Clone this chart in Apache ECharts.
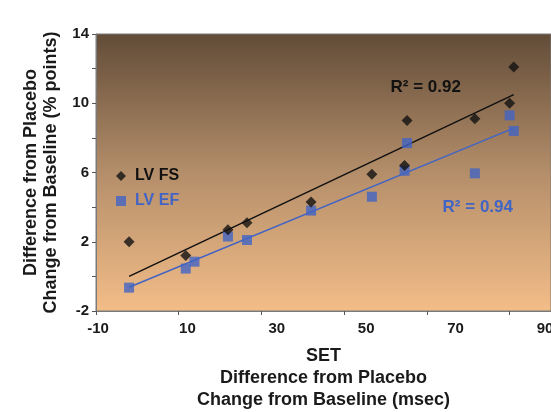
<!DOCTYPE html>
<html>
<head>
<meta charset="utf-8">
<script src="https://cdn.jsdelivr.net/npm/echarts@6/dist/echarts.min.js"></script>
<style>
  html, body { margin: 0; padding: 0; background: #fff; }
  #chart { width: 551px; height: 412px; }
</style>
</head>
<body>
<div id="chart"></div>
<script>
// LV FS (diamonds) and LV EF (squares), SET msec vs % points
var fsX = [-2, 11.7, 21.9, 26.5, 42.0, 56.7, 64.6, 65.2, 81.6, 90.0, 91.0];
var fsY = [2.0, 1.2, 2.7, 3.1, 4.3, 5.9, 6.4, 9.0, 9.1, 10.0, 12.1];
var efX = [-2, 11.7, 13.8, 21.9, 26.5, 42.0, 56.7, 64.6, 65.2, 81.6, 90.0, 91.0];
var efY = [-0.65, 0.45, 0.85, 2.3, 2.1, 3.8, 4.6, 6.1, 7.7, 5.95, 9.3, 8.4];

// trend line ends
var fsTrendX = [-2, 91];
var fsTrendY = [0.0, 10.5];
var efTrendX = [-2, 91];
var efTrendY = [-0.63, 8.56];

var xTickLabels = [-10, 10, 30, 50, 70, 90];
var yTickLabels = [-2, 2, 6, 10, 14];

function pairs(xs, ys) {
  return xs.map(function (x, i) { return [x, ys[i]]; });
}

var blue = '#4264c4';
var font = '"Liberation Sans", Arial, sans-serif';

var chart = echarts.init(document.getElementById('chart'));

chart.setOption({
  backgroundColor: '#fff',
  animation: false,
  textStyle: { fontFamily: font },
  grid: {
    left: 96,
    right: 0,
    top: 34,
    bottom: 101,
    outerBoundsMode: 'none',
    containLabel: false,
    show: true,
    borderColor: '#7a7a7a',
    borderWidth: 1,
    backgroundColor: {
      type: 'linear', x: 0, y: 0, x2: 0, y2: 1,
      colorStops: [
        { offset: 0, color: '#624c38' },
        { offset: 0.5, color: '#b48e6a' },
        { offset: 1, color: '#f3bd88' }
      ]
    }
  },
  legend: {
    orient: 'vertical',
    left: 111,
    top: 163,
    itemWidth: 10,
    itemHeight: 10,
    itemGap: 9,
    textStyle: { fontSize: 16, fontWeight: 'bold', fontFamily: font, padding: [0, 0, 0, 4] },
    data: [
      { name: 'LV FS', textStyle: { color: '#111' } },
      { name: 'LV EF', textStyle: { color: blue } }
    ]
  },
  xAxis: [
    {
      type: 'value',
      min: -10,
      max: 100,
      interval: 20,
      position: 'bottom',
      axisLine: { onZero: false, lineStyle: { color: '#7a7a7a', width: 1 } },
      axisTick: { length: 4, lineStyle: { color: '#555' } },
      axisLabel: { show: false },
      splitLine: { show: false },
      name: 'SET\nDifference from Placebo\nChange from Baseline (msec)',
      nameLocation: 'middle',
      nameGap: 34,
      nameTextStyle: {
        fontSize: 18, fontWeight: 'bold', color: '#1a1a1a',
        lineHeight: 22, fontFamily: font
      }
    },
    {
      // labels only (they drift a bit from the ticks in the source)
      type: 'value',
      min: -10.45,
      max: 91.34,
      position: 'bottom',
      axisLine: { show: false, onZero: false },
      axisTick: { show: false },
      splitLine: { show: false },
      axisLabel: {
        customValues: xTickLabels,
        fontSize: 15,
        fontWeight: 'bold',
        color: '#1a1a1a',
        margin: 10
      }
    }
  ],
  yAxis: {
    type: 'value',
    min: -2,
    max: 14,
    interval: 2,
    axisLine: { show: true, onZero: false, lineStyle: { color: '#7a7a7a', width: 1 } },
    axisTick: { show: true, length: 4, lineStyle: { color: '#555' } },
    splitLine: { show: false },
    axisLabel: {
      customValues: yTickLabels,
      fontSize: 15,
      fontWeight: 'bold',
      color: '#1a1a1a',
      margin: 7
    },
    name: 'Difference from Placebo\nChange from Baseline (% points)',
    nameLocation: 'middle',
    nameRotate: 90,
    nameGap: 32,
    nameTextStyle: {
      fontSize: 18, fontWeight: 'bold', color: '#1a1a1a',
      lineHeight: 20, fontFamily: font
    }
  },
  series: [
    {
      name: 'fs trend',
      type: 'line',
      data: pairs(fsTrendX, fsTrendY),
      showSymbol: false,
      silent: true,
      lineStyle: { color: '#111', width: 1.5 },
      markPoint: {
        symbolSize: 0,
        label: {
          show: true, position: 'inside', color: '#111',
          fontSize: 17, fontWeight: 'bold', fontFamily: font,
          formatter: 'R² = 0.92'
        },
        data: [{ coord: [69.7, 10.9] }]
      }
    },
    {
      name: 'ef trend',
      type: 'line',
      data: pairs(efTrendX, efTrendY),
      showSymbol: false,
      silent: true,
      lineStyle: { color: blue, width: 1.5 },
      markPoint: {
        symbolSize: 0,
        label: {
          show: true, position: 'inside', color: blue,
          fontSize: 17, fontWeight: 'bold', fontFamily: font,
          formatter: 'R² = 0.94'
        },
        data: [{ coord: [82.3, 4.0] }]
      }
    },
    {
      name: 'LV FS',
      type: 'scatter',
      symbol: 'diamond',
      symbolSize: 11,
      itemStyle: { color: '#111' },
      data: pairs(fsX, fsY),
      z: 5
    },
    {
      name: 'LV EF',
      type: 'scatter',
      symbol: 'rect',
      symbolSize: 10,
      itemStyle: { color: blue },
      data: pairs(efX, efY),
      z: 4
    }
  ]
});
</script>
</body>
</html>
